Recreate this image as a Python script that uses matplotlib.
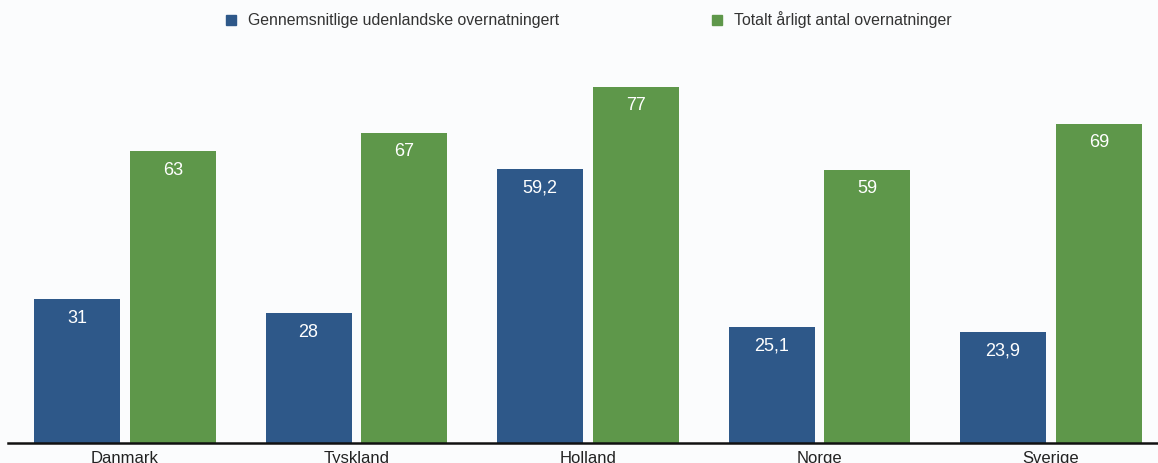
import numpy as np
import matplotlib.pyplot as plt

plt.rcParams['font.family'] = ['Liberation Sans', 'DejaVu Sans']

# Data
countries = ['Danmark', 'Tyskland', 'Holland', 'Norge', 'Sverige']
avg_foreign = [31, 28, 59.2, 25.1, 23.9]
total_yearly = [63, 67, 77, 59, 69]
series_names = ['Gennemsnitlige udenlandske overnatningert',
                'Totalt årligt antal overnatninger']

BLUE = '#2e5889'
GREEN = '#5e974a'
BG = '#fbfcfd'

fig = plt.figure(figsize=(11.58, 4.63), dpi=100, facecolor=BG)
ax = fig.add_axes([8/1158, 20/463, 1150/1158, 443/463], facecolor=BG)

x = np.arange(len(countries))
w = 0.3715
off = 0.207
b1 = ax.bar(x - off, avg_foreign, w, color=BLUE)
b2 = ax.bar(x + off, total_yearly, w, color=GREEN)


def fmt(v):
    return str(v).replace('.', ',') if v % 1 else str(int(v))


for bars, vals in ((b1, avg_foreign), (b2, total_yearly)):
    for b, v in zip(bars, vals):
        ax.annotate(fmt(v), (b.get_x() + b.get_width()/2, v),
                    xytext=(0, -13.5), textcoords='offset points',
                    ha='center', va='center', color='white', fontsize=13)

ax.set_xlim(-0.505, 4.462)
ax.set_ylim(0, 95.7)
for s in ['top', 'right', 'left']:
    ax.spines[s].set_visible(False)
ax.spines['bottom'].set_linewidth(1.8)
ax.spines['bottom'].set_color('#111111')
ax.set_yticks([])
ax.set_xticks(x)
ax.set_xticklabels(countries, fontsize=12, color='#222222')
ax.tick_params(axis='x', length=0, pad=6)

# legend
fig.patches.append(plt.Rectangle((226/1158, 1 - 25/463), 10/1158, 10/463,
                                 transform=fig.transFigure, color=BLUE))
fig.text(248/1158, 1 - 20/463, series_names[0], fontsize=11.4,
         color='#333333', va='center')
fig.patches.append(plt.Rectangle((712/1158, 1 - 25/463), 10/1158, 10/463,
                                 transform=fig.transFigure, color=GREEN))
fig.text(734/1158, 1 - 20/463, series_names[1], fontsize=11.4,
         color='#333333', va='center')

fig.savefig('out.png', dpi=100, facecolor=BG)
